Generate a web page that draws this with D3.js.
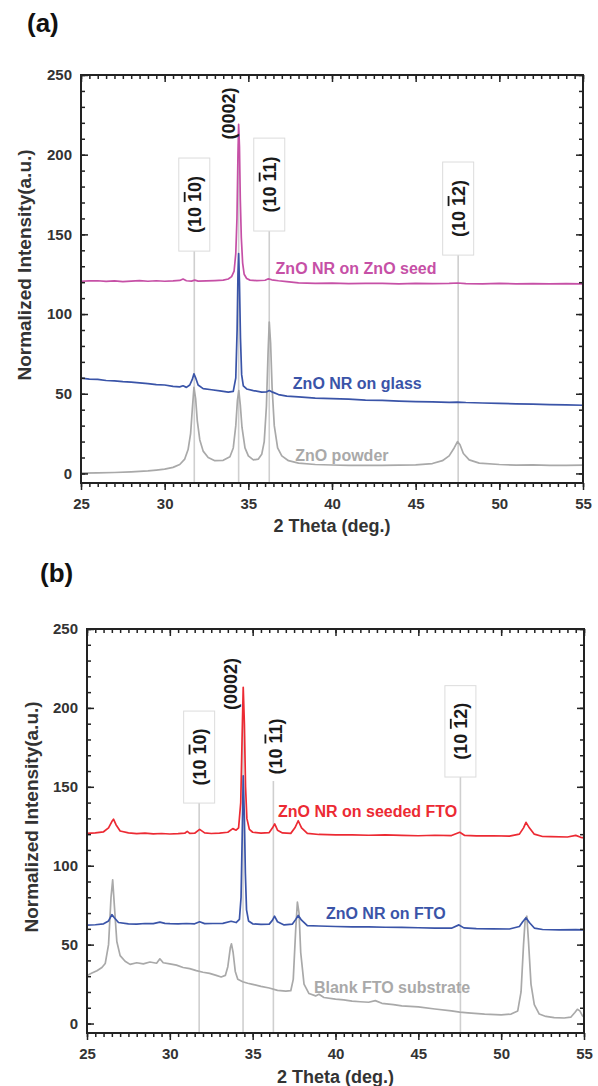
<!DOCTYPE html>
<html>
<head>
<meta charset="utf-8">
<script src="https://cdn.jsdelivr.net/npm/d3@7"></script>
<style>
  body { margin: 0; background: #fff; }
  text { font-family: "Liberation Sans", Arial, sans-serif; font-weight: bold; }
</style>
</head>
<body>
<script>
// ZnO reflections (2 theta, deg.)
const peaks = [31.77, 34.42, 36.25, 47.54];
const hklLabels = [['(10 ', '1', '0)'], ['(0002)', '', ''], ['(10 ', '1', '1)'], ['(10 ', '1', '2)']];

const xTicks = [25, 30, 35, 40, 45, 50, 55];
const yTicks = [0, 50, 100, 150, 200, 250];

// panel (a) patterns [2theta, intensity]
const aSeed = [
  [25.0,120.6],[25.5,120.8],[26.0,120.9],[26.5,120.5],[27.0,120.8],[27.5,120.4],[28.0,120.7],[28.5,121.0],
  [29.0,120.6],[29.5,120.9],[30.0,120.6],[30.5,120.8],[30.9,121.1],[31.1,122.0],[31.3,120.9],[31.6,120.7],
  [31.8,121.3],[32.0,120.7],[32.5,120.8],[33.0,121.0],[33.5,121.3],[33.8,122.0],[34.0,123.5],[34.15,127],
  [34.25,138],[34.32,160],[34.38,200],[34.42,219],[34.47,205],[34.52,172],[34.58,148],[34.66,132],
  [34.75,125],[34.9,122.3],[35.1,121.3],[35.5,121.0],[36.0,121.2],[36.2,122.1],[36.4,121.5],[36.8,120.9],
  [37.3,120.4],[38.0,119.6],[39.0,119.3],[40.0,119.4],[41.0,119.1],[42.0,119.3],[43.0,119.2],[44.0,119.0],
  [45.0,119.2],[46.0,119.1],[47.0,119.2],[47.5,119.5],[48.0,119.1],[49.0,119.0],[50.0,119.2],[51.0,119.0],
  [52.0,119.1],[53.0,118.9],[54.0,119.1],[55.0,118.9]
];
const aGlass = [
  [25.0,59.8],[25.5,59.2],[26.0,59.0],[26.5,58.3],[27.0,58.1],[27.5,57.6],[28.0,57.3],[28.5,56.8],
  [29.0,56.4],[29.5,55.7],[30.0,55.5],[30.5,54.6],[30.9,54.3],[31.1,55.0],[31.3,54.0],[31.5,55.5],
  [31.65,59],[31.75,62.5],[31.85,60],[32.0,55.5],[32.3,53.2],[32.8,52.5],[33.3,51.8],[33.8,51.0],
  [34.1,51.5],[34.25,60],[34.33,90],[34.38,125],[34.42,138],[34.47,120],[34.53,85],[34.6,62],
  [34.7,55],[34.9,53],[35.3,52.0],[35.8,51.0],[36.1,51.2],[36.25,52],[36.45,51],[36.8,49.5],
  [37.3,48.5],[38.0,48.0],[39.0,47.3],[40.0,47.0],[41.0,46.6],[42.0,46.0],[43.0,45.9],[44.0,45.4],
  [45.0,45.1],[46.0,44.9],[47.0,44.6],[47.5,44.8],[48.0,44.5],[49.0,44.2],[50.0,44.0],[51.0,43.7],
  [52.0,43.5],[53.0,43.2],[54.0,43.0],[55.0,42.8]
];
const aPowder = [
  [25.0,0.2],[26.0,0.3],[27.0,0.6],[28.0,1.0],[29.0,1.6],[29.5,2.1],[30.0,2.7],[30.5,3.8],
  [30.9,5.6],[31.2,9],[31.4,15],[31.55,25],[31.65,40],[31.75,54],[31.85,47],[31.95,33],
  [32.1,21],[32.3,14],[32.6,10],[33.0,8],[33.5,8.2],[33.9,10.5],[34.1,16],[34.25,30],
  [34.35,46],[34.43,52],[34.52,43],[34.62,29],[34.8,16],[35.0,11],[35.3,8.5],[35.6,9],
  [35.8,12],[35.95,20],[36.08,42],[36.18,76],[36.25,95],[36.33,82],[36.42,54],[36.55,30],
  [36.75,16],[37.0,11],[37.4,8],[38.0,6.5],[39.0,5.6],[40.0,5.3],[41.0,5.0],[42.0,5.1],
  [43.0,5.0],[44.0,5.2],[45.0,5.4],[46.0,6.2],[46.6,8],[47.0,11],[47.3,16],[47.5,20],
  [47.65,18],[47.85,12.5],[48.2,8.5],[48.8,6.5],[50.0,5.6],[51.0,5.2],[52.0,5.4],[53.0,5.1],
  [54.0,5.0],[55.0,5.2]
];

// panel (b) patterns
const bSeeded = [
  [25.0,120.5],[25.5,120.8],[26.0,121.5],[26.3,124],[26.5,128],[26.6,129.5],[26.75,126],[27.0,122],
  [27.5,120.8],[28.0,120.3],[28.5,120.6],[29.0,120.2],[29.5,120.4],[30.0,120.1],[30.5,120.3],[30.9,120.6],
  [31.05,121.8],[31.2,120.5],[31.5,120.6],[31.8,123],[32.1,120.8],[32.5,120.4],[33.0,120.6],[33.5,121.2],
  [33.8,123.5],[34.0,122.5],[34.15,124],[34.28,140],[34.36,180],[34.43,213],[34.5,190],[34.57,150],
  [34.65,130],[34.8,123],[35.0,121.2],[35.5,120.6],[36.0,121.0],[36.2,124],[36.33,126.5],[36.5,122.5],
  [36.8,120.8],[37.3,120.5],[37.55,124],[37.75,128.5],[37.95,124],[38.3,120.5],[39.0,119.8],[40.0,119.5],
  [41.0,119.6],[42.0,119.3],[43.0,119.5],[44.0,119.2],[45.0,119.0],[46.0,119.3],[47.0,119.1],[47.5,121.2],
  [47.8,119.2],[48.5,118.9],[49.5,119.0],[50.5,118.8],[51.1,120],[51.35,124],[51.5,127.5],[51.7,124],
  [52.0,120],[52.5,118.5],[53.0,118.4],[54.0,118.2],[54.5,119.2],[54.8,118.0],[55.0,117.6]
];
const bFto = [
  [25.0,62.3],[25.5,62.6],[26.0,63.2],[26.3,65],[26.5,69],[26.65,67],[26.9,64],[27.5,63.2],
  [28.0,63.0],[28.5,63.4],[29.0,63.3],[29.4,64.3],[29.7,63.5],[30.0,63.3],[30.5,63.2],[31.0,63.4],
  [31.5,63.2],[31.8,64.5],[32.1,63.3],[32.6,63.4],[33.2,63.5],[33.7,64.8],[34.0,64.0],[34.2,66],
  [34.3,80],[34.37,120],[34.43,157],[34.5,130],[34.56,95],[34.63,72],[34.75,65],[35.0,63.2],
  [35.5,62.8],[36.0,63.0],[36.2,65.5],[36.32,68],[36.5,64.5],[36.9,62.5],[37.4,63],[37.6,66],
  [37.75,68.5],[37.95,65.5],[38.3,62],[39.0,61.8],[40.0,61.5],[41.0,61.3],[42.0,61.2],[43.0,61.0],
  [44.0,60.9],[45.0,60.7],[46.0,60.5],[47.0,60.4],[47.45,62.5],[47.75,60.6],[48.5,60.1],[49.5,60.0],
  [50.5,59.9],[51.1,61.5],[51.3,64.5],[51.5,67],[51.7,64],[52.0,60.5],[52.5,59.6],[53.5,59.4],
  [54.5,59.5],[55.0,59.3]
];
const bBlank = [
  [25.0,30.5],[25.3,32],[25.6,33.5],[25.9,35.5],[26.1,38],[26.3,50],[26.45,80],[26.55,91],
  [26.65,75],[26.8,52],[27.0,43],[27.3,39.5],[27.6,37.5],[28.0,38.5],[28.4,37.8],[28.8,39.0],
  [29.2,38.2],[29.4,41],[29.6,38.5],[30.0,37.8],[30.4,37.0],[30.8,35.5],[31.2,34.8],[31.6,33.5],
  [32.0,32.5],[32.4,31.8],[32.8,30.5],[33.1,29.5],[33.35,30.5],[33.5,36],[33.65,48],[33.72,50.5],
  [33.82,45],[33.95,33],[34.1,28],[34.4,26.5],[34.7,25.5],[35.0,24.8],[35.5,23.5],[36.0,22.5],
  [36.5,21.0],[37.0,20.5],[37.3,20.8],[37.45,28],[37.6,60],[37.7,77],[37.8,70],[37.9,45],
  [38.1,25],[38.4,19],[38.8,17.5],[39.0,18.5],[39.3,16.5],[40.0,15.5],[40.5,15.0],[41.0,14.2],
  [41.5,13.8],[42.0,13.5],[42.4,14.5],[42.8,12.8],[43.5,12.0],[44.0,11.2],[45.0,10.5],[46.0,9.2],
  [47.0,8.0],[47.5,7.2],[48.0,6.8],[49.0,6.0],[50.0,5.5],[50.6,6.0],[51.0,8],[51.2,20],
  [51.35,50],[51.45,66],[51.55,68],[51.65,52],[51.8,25],[52.0,12],[52.3,6],[52.7,4.5],
  [53.2,3.8],[53.8,3.5],[54.2,4.0],[54.45,7],[54.6,9],[54.75,8],[54.9,5],[55.0,4.0]
];

const svg = d3.select('body').append('svg')
  .attr('width', 598)
  .attr('height', 1086);

// layout for each panel (label spots are given in data units)
const panels = [
  {
    tag: '(a)', tagX: 27, tagY: 32,
    left: 81, right: 583, top: 75, bottom: 483,
    titleX: 31, titleY: 532,
    series: [
      { data: aPowder, color: '#a9a9a9', name: 'ZnO powder', lx: 37.8, ly: 7.8 },
      { data: aGlass, color: '#3a54a8', name: 'ZnO NR on glass', lx: 37.66, ly: 53 },
      { data: aSeed, color: '#c650a6', name: 'ZnO NR on ZnO seed', lx: 36.63, ly: 125 }
    ],
    hkl: [
      { box: true, top: 197.9, bot: 139.5, dx: 0 },
      { box: false, top: 242.4, bot: 209.2, dx: -0.63 },
      { box: true, top: 210.4, bot: 152.1, dx: 0 },
      { box: true, top: 195.4, bot: 137, dx: 0 }
    ]
  },
  {
    tag: '(b)', tagX: 40, tagY: 582,
    left: 87, right: 584, top: 629, bottom: 1033,
    titleX: 38, titleY: 1083,
    series: [
      { data: bBlank, color: '#a9a9a9', name: 'Blank FTO substrate', lx: 38.7, ly: 19.3 },
      { data: bFto, color: '#3a54a8', name: 'ZnO NR on FTO', lx: 39.42, ly: 66.2 },
      { data: bSeeded, color: '#ec2a33', name: 'ZnO NR on seeded FTO', lx: 36.53, ly: 130.9 }
    ],
    hkl: [
      { box: true, top: 198, bot: 139.7, dx: 0 },
      { box: false, top: 231.7, bot: 198.7, dx: -0.78 },
      { box: false, top: 194.9, bot: 156.2, dx: 0.1 },
      { box: true, top: 214.1, bot: 156.2, dx: 0 }
    ]
  }
];

panels.forEach(p => drawPanel(p));

function drawPanel(p) {
  const x = d3.scaleLinear().domain([25, 55]).range([p.left, p.right]);
  const y = d3.scaleLinear().domain([-6, 250]).range([p.bottom, p.top]);
  const g = svg.append('g');

  // panel tag
  g.append('text')
    .attr('x', p.tagX).attr('y', p.tagY)
    .attr('font-size', 26).attr('fill', '#111')
    .text(p.tag);

  // reference lines at the ZnO reflections
  g.selectAll('.ref')
    .data(peaks)
    .enter().append('line')
    .attr('x1', d => x(d)).attr('x2', d => x(d))
    .attr('y1', (d, i) => y(p.hkl[i].bot) + (p.hkl[i].box ? 0 : 4))
    .attr('y2', p.bottom)
    .attr('stroke', '#cfcfcf')
    .attr('stroke-width', 1.6);

  // patterns
  const line = d3.line().x(d => x(d[0])).y(d => y(d[1]));
  p.series.forEach(s => {
    g.append('path')
      .datum(s.data)
      .attr('d', line)
      .attr('fill', 'none')
      .attr('stroke', s.color)
      .attr('stroke-width', 1.7)
      .attr('stroke-linejoin', 'round');
  });

  // hkl labels
  peaks.forEach((pk, i) => {
    const h = p.hkl[i];
    const cx = x(pk + h.dx);
    const cy = (y(h.top) + y(h.bot)) / 2;
    if (h.box) {
      g.append('rect')
        .attr('x', cx - 15.5).attr('y', y(h.top))
        .attr('width', 31).attr('height', y(h.bot) - y(h.top))
        .attr('fill', '#fff')
        .attr('stroke', '#dcdcdc')
        .attr('stroke-width', 1);
    }
    const t = g.append('text')
      .attr('transform', `translate(${cx},${cy}) rotate(-90)`)
      .attr('text-anchor', 'middle')
      .attr('dy', '0.36em')
      .attr('font-size', 18)
      .attr('fill', '#1a1a1a');
    const lab = hklLabels[i];
    t.append('tspan').text(lab[0]);
    if (lab[1]) {
      t.append('tspan').style('text-decoration', 'overline').text(lab[1]);
      t.append('tspan').text(lab[2]);
    }
  });

  // series names
  p.series.forEach(s => {
    g.append('text')
      .attr('x', x(s.lx)).attr('y', y(s.ly))
      .attr('font-size', 16)
      .attr('fill', s.color)
      .text(s.name);
  });

  // axes
  const minorX = d3.range(25, 55.01, 0.5);
  const minorY = d3.range(0, 250.01, 10);
  const ax = [
    [d3.axisBottom(x).tickValues(minorX).tickSize(4).tickFormat(''), `translate(0,${p.bottom})`],
    [d3.axisBottom(x).tickValues(xTicks).tickSize(7).tickPadding(8).tickFormat(d3.format('d')), `translate(0,${p.bottom})`],
    [d3.axisTop(x).tickValues(minorX).tickSize(-4).tickFormat(''), `translate(0,${p.top})`],
    [d3.axisTop(x).tickValues(xTicks).tickSize(-7).tickFormat(''), `translate(0,${p.top})`],
    [d3.axisLeft(y).tickValues(minorY).tickSize(-4).tickFormat(''), `translate(${p.left},0)`],
    [d3.axisLeft(y).tickValues(yTicks).tickSize(-7).tickPadding(9).tickFormat(d3.format('d')), `translate(${p.left},0)`],
    [d3.axisRight(y).tickValues(minorY).tickSize(-4).tickFormat(''), `translate(${p.right},0)`],
    [d3.axisRight(y).tickValues(yTicks).tickSize(-7).tickFormat(''), `translate(${p.right},0)`]
  ];
  ax.forEach(([axis, tr]) => {
    const a = g.append('g').attr('transform', tr).call(axis);
    a.select('.domain').remove();
    a.selectAll('.tick line').attr('stroke', '#222').attr('stroke-width', 1.5);
    a.selectAll('.tick text')
      .attr('fill', '#333')
      .attr('font-size', 15)
      .attr('font-family', '"Liberation Sans", Arial, sans-serif')
      .attr('font-weight', 'bold');
  });

  // frame
  g.append('rect')
    .attr('x', p.left).attr('y', p.top)
    .attr('width', p.right - p.left).attr('height', p.bottom - p.top)
    .attr('fill', 'none')
    .attr('stroke', '#222')
    .attr('stroke-width', 2);

  // axis titles
  g.append('text')
    .attr('x', (p.left + p.right) / 2).attr('y', p.titleY)
    .attr('text-anchor', 'middle')
    .attr('font-size', 18).attr('fill', '#333')
    .text('2 Theta (deg.)');

  g.append('text')
    .attr('transform', `translate(${p.titleX},${(p.top + p.bottom) / 2 - 14}) rotate(-90)`)
    .attr('text-anchor', 'middle')
    .attr('font-size', 19).attr('fill', '#333')
    .text('Normalized Intensity(a.u.)');
}
</script>
</body>
</html>
